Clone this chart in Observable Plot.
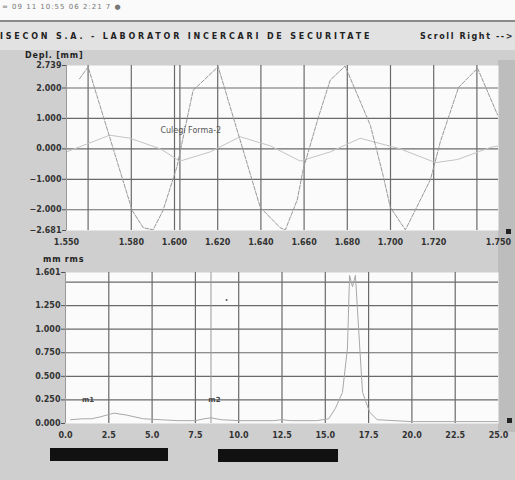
<!DOCTYPE html>
<html>
<head>
<meta charset="utf-8">
<script src="https://cdn.jsdelivr.net/npm/d3@7"></script>
<script src="https://cdn.jsdelivr.net/npm/@observablehq/plot@0.6"></script>
<style>
  html, body { margin: 0; padding: 0; background: #fff; }
  #root { position: relative; width: 515px; height: 480px; background: #cfcfcf; overflow: hidden; font-family: "DejaVu Sans", sans-serif; }
  .abs { position: absolute; white-space: nowrap; }
  .hdr { font-weight: bold; font-size: 8px; color: #222; letter-spacing: 1.6px; }
</style>
</head>
<body>
<div id="root">
  <div class="abs" style="left:0;top:0;width:515px;height:20px;background:#fafafa"></div>
  <div class="abs" style="left:2px;top:3px;font-size:7px;color:#777;letter-spacing:1px">= 09 11 10:55 06 2:21 7 ●</div>
  <div class="abs" style="left:0;top:20px;width:515px;height:2px;background:#8a8a8a"></div>
  <div class="abs" style="left:0;top:22px;width:515px;height:28px;background:#e2e2e2"></div>
  <div class="abs hdr" style="left:0;top:32px;letter-spacing:2.8px">ISECON S.A. - LABORATOR INCERCARI DE SECURITATE</div>
  <div class="abs hdr" style="left:420px;top:32px;letter-spacing:1.6px">Scroll Right --&gt;</div>
  <div class="abs" style="left:498px;top:60px;width:17px;height:372px;background:#bdbdbd"></div>
  <div class="abs hdr" style="left:25px;top:51px;letter-spacing:0.8px">Depl. [mm]</div>
  <div class="abs hdr" style="left:43px;top:255px;letter-spacing:0.8px">mm rms</div>
  <div id="p1" class="abs" style="left:0;top:45px"></div>
  <div id="p2" class="abs" style="left:0;top:252px"></div>
  <div class="abs" style="left:506px;top:229px;width:5px;height:5px;background:#222"></div>
  <div class="abs" style="left:507px;top:418px;width:5px;height:5px;background:#222"></div>
  <div class="abs" style="left:50px;top:448px;width:118px;height:13px;background:#111"></div>
  <div class="abs" style="left:218px;top:449px;width:120px;height:13px;background:#111"></div>
</div>
<script>
// ---- Upper chart: displacement [mm] vs time ----
const timeX = [1.556, 1.5600, 1.5804, 1.5855, 1.5901, 1.5947, 1.6012, 1.6086, 1.6202, 1.6397, 1.6489, 1.6513, 1.6568, 1.6596, 1.6665, 1.6721, 1.6790, 1.6907, 1.6967, 1.6999, 1.7069, 1.7185, 1.7231, 1.7315, 1.7403, 1.7496];
const displ1 = [2.30, 2.69, -2.02, -2.59, -2.66, -2.02, -0.57, 1.92, 2.70, -1.92, -2.59, -2.66, -1.68, -0.67, 1.01, 2.26, 2.72, 0.77, -0.91, -1.92, -2.66, -1.01, 0.24, 2.02, 2.65, 1.11];
const timeX2 = [1.550, 1.570, 1.5795, 1.5934, 1.6026, 1.6165, 1.6304, 1.6443, 1.6582, 1.6721, 1.6860, 1.7045, 1.7208, 1.7310, 1.7463, 1.750];
const displ2 = [-0.10, 0.45, 0.35, 0.00, -0.40, -0.10, 0.40, 0.10, -0.40, -0.10, 0.35, 0.00, -0.45, -0.35, 0.05, 0.10];
const upperXTicks = [1.550, 1.580, 1.600, 1.620, 1.640, 1.660, 1.680, 1.700, 1.720, 1.750];
const upperXGrid = [1.56, 1.58, 1.60, 1.62, 1.64, 1.66, 1.68, 1.70, 1.72, 1.74];
const upperYTicks = [2.739, 2, 1, 0, -1, -2, -2.681];
const upperYGrid = [2, 1, 0, -1, -2];
const upperCursor = [1.6025];
const upperLabel = ["Culegi Forma-2"];

// ---- Lower chart: spectrum [mm rms] vs frequency ----
const freq = [0.3, 1.0, 1.5, 2.0, 2.8, 3.5, 4.5, 5.5, 6.5, 7.5, 8.0, 8.4, 9.0, 10.0, 12.0, 12.5, 13.0, 14.5, 15.2, 15.58, 15.99, 16.28, 16.40, 16.57, 16.74, 16.98, 17.15, 17.56, 18.0, 20.0, 22.5, 25.0];
const amp  = [0.04, 0.05, 0.05, 0.07, 0.11, 0.09, 0.05, 0.04, 0.03, 0.03, 0.05, 0.06, 0.04, 0.03, 0.03, 0.04, 0.03, 0.03, 0.05, 0.16, 0.33, 0.80, 1.57, 1.45, 1.57, 0.83, 0.33, 0.12, 0.04, 0.02, 0.02, 0.02];
const lowerXTicks = [0, 2.5, 5, 7.5, 10, 12.5, 15, 17.5, 20, 22.5, 25];
const lowerXGrid = [2.5, 5, 7.5, 10, 12.5, 15, 17.5, 20, 22.5];
const lowerYTicks = [1.601, 1.25, 1.0, 0.75, 0.5, 0.25, 0.0];
const lowerYGrid = [1.5, 1.25, 1.0, 0.75, 0.5, 0.25];
const lowerCursor = [8.4];
const markerNames = ["m1", "m2"];
const markerFreq = [1.3, 8.6];
const markerAmp = [0.25, 0.25];

const f3 = d3.format(".3f");
const f1 = d3.format(".1f");
const axisText = { fontWeight: "bold", fill: "#333", fontSize: 8 };

const upper = Plot.plot({
  width: 515, height: 205,
  marginLeft: 66, marginRight: 17, marginTop: 20, marginBottom: 20,
  style: { background: "transparent", fontFamily: "DejaVu Sans, sans-serif" },
  x: { domain: [1.55, 1.75], label: null },
  y: { domain: [-2.681, 2.739], label: null },
  marks: [
    Plot.frame({ fill: "#fbfbfb", stroke: null }),
    Plot.ruleX(upperXGrid, { stroke: "#6a6a6a", strokeWidth: 1.2 }),
    Plot.ruleY(upperYGrid, { stroke: "#6a6a6a", strokeWidth: 1.2 }),
    Plot.ruleX(upperCursor, { stroke: "#6a6a6a", strokeWidth: 1.2 }),
    Plot.line(timeX2.map((x, i) => ({ x, y: displ2[i] })), { x: "x", y: "y", stroke: "#c4c4c4", strokeWidth: 1, clip: true }),
    Plot.line(timeX.map((x, i) => ({ x, y: displ1[i] })), { x: "x", y: "y", stroke: "#999", strokeWidth: 1, strokeDasharray: "4,1.5", clip: true }),
    Plot.text(upperLabel, { x: 1.5935, y: 0.62, text: d => d, textAnchor: "start", fontSize: 8, fill: "#555", letterSpacing: "0.6px" }),
    Plot.ruleX([1.55], { stroke: "#999" }),
    Plot.axisX({ ticks: upperXTicks, tickFormat: f3, tickSize: 0, tickPadding: 9, label: null, ...axisText, letterSpacing: "1px" }),
    Plot.axisY({ ticks: upperYTicks, tickFormat: f3, tickSize: 4, tickPadding: 1, label: null, stroke: "#555", ...axisText, letterSpacing: "0.3px" })
  ]
});
document.getElementById("p1").appendChild(upper);

const lower = Plot.plot({
  width: 515, height: 191,
  marginLeft: 65, marginRight: 17, marginTop: 20, marginBottom: 20,
  style: { background: "transparent", fontFamily: "DejaVu Sans, sans-serif" },
  x: { domain: [0, 25], label: null },
  y: { domain: [0, 1.601], label: null },
  marks: [
    Plot.frame({ fill: "#fbfbfb", stroke: null }),
    Plot.ruleX(lowerXGrid, { stroke: "#6a6a6a", strokeWidth: 1.2 }),
    Plot.ruleY(lowerYGrid, { stroke: "#6a6a6a", strokeWidth: 1.2 }),
    Plot.ruleX(lowerCursor, { stroke: "#9a9a9a", strokeWidth: 1 }),
    Plot.line(freq.map((x, i) => ({ x, y: amp[i] })), { x: "x", y: "y", stroke: "#a8a8a8", strokeWidth: 1, clip: true }),
    Plot.text(markerNames, { x: (d, i) => markerFreq[i], y: (d, i) => markerAmp[i], text: d => d, fontSize: 7, fontWeight: "bold", fill: "#444" }),
    Plot.dot([1.31], { x: 9.3, y: d => d, r: 1, fill: "#555", stroke: null }),
    Plot.ruleX([0], { stroke: "#999" }),
    Plot.axisX({ ticks: lowerXTicks, tickFormat: f1, tickSize: 0, tickPadding: 9, label: null, ...axisText, letterSpacing: "1px" }),
    Plot.axisY({ ticks: lowerYTicks, tickFormat: f3, tickSize: 4, tickPadding: 1, label: null, stroke: "#555", ...axisText, letterSpacing: "0.3px" })
  ]
});
document.getElementById("p2").appendChild(lower);
</script>
</body>
</html>
